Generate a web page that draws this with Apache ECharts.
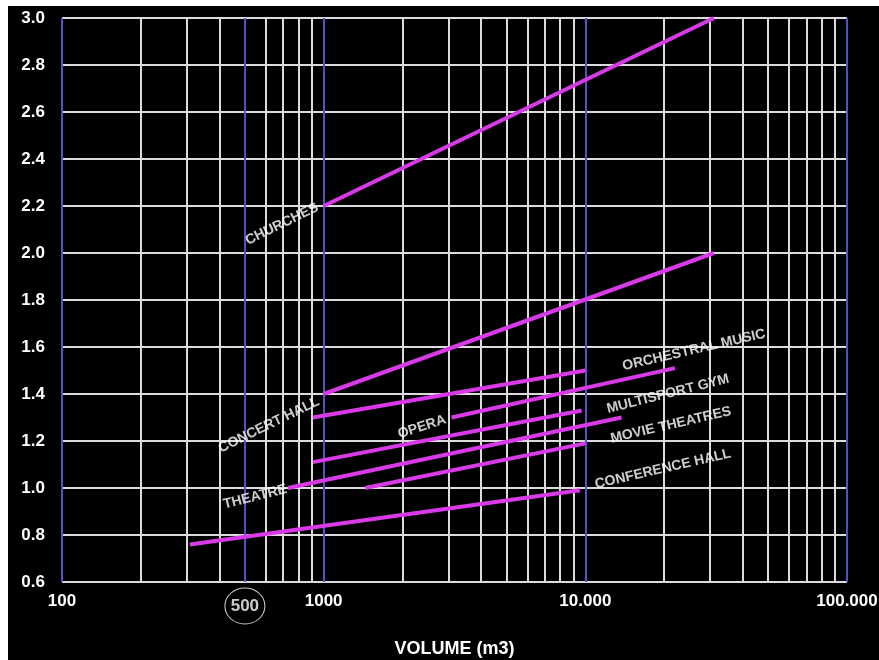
<!DOCTYPE html>
<html>
<head>
<meta charset="utf-8">
<script src="https://cdn.jsdelivr.net/npm/echarts@6/dist/echarts.min.js"></script>
<style>
  html, body { margin: 0; padding: 0; background: #fff; }
  #chart { position: absolute; left: 8px; top: 6px; width: 871px; height: 654px; }
</style>
</head>
<body>
<div id="chart"></div>
<script>
// grid lines of the log paper
const minorX = [200, 300, 400, 600, 700, 800, 900, 2000, 3000, 4000, 5000, 6000, 7000, 8000, 9000,
  20000, 30000, 40000, 50000, 60000, 70000, 80000, 90000]
const majorX = [100, 500, 1000, 10000, 100000]

// reverberation time lines (volume m3 -> seconds)
const lineNames = ['Churches', 'Concert hall', 'Orchestral', 'Opera', 'Multisport', 'Theatre', 'Movie', 'Conference hall']
const startVol = [1000, 1000, 910, 3080, 910, 730, 1440, 308]
const startT = [2.2, 1.4, 1.3, 1.3, 1.11, 1.0, 1.0, 0.76]
const endVol = [31000, 31000, 10000, 22000, 9680, 13760, 10000, 9530]
const endT = [3.0, 2.0, 1.5, 1.51, 1.33, 1.3, 1.19, 0.99]

// text labels along the lines
const labelText = ['CHURCHES', 'CONCERT HALL', 'THEATRE', 'OPERA', 'ORCHESTRAL MUSIC', 'MULTISPORT GYM', 'MOVIE THEATRES', 'CONFERENCE HALL']
const labelVol = [693, 618, 547, 2375, 26000, 20690, 21230, 19800]
const labelT = [2.123, 1.268, 0.962, 1.26, 1.587, 1.40, 1.268, 1.081]
const labelAngle = [26, 26, 14, 18, 13, 14, 13, 13]

const chart = echarts.init(document.getElementById('chart'))

function fmtVol(v) {
  const n = Math.round(v)
  return n >= 10000 ? String(n).replace(/\B(?=(\d{3})+(?!\d))/g, '.') : String(n)
}

const font = 'Liberation Sans, Arial, sans-serif'
const series = []

// vertical grid lines
series.push({
  type: 'line', data: [], silent: true, z: 1,
  markLine: {
    silent: true, symbol: 'none', label: { show: false }, animation: false,
    lineStyle: { color: '#dcdcdc', width: 2, type: 'solid' },
    data: minorX.map(v => ({ xAxis: v }))
  }
})
series.push({
  type: 'line', data: [], silent: true, z: 2,
  markLine: {
    silent: true, symbol: 'none', label: { show: false }, animation: false,
    lineStyle: { color: '#5252c4', width: 2, type: 'solid' },
    data: majorX.map(v => ({ xAxis: v }))
  }
})

lineNames.forEach((name, i) => {
  series.push({
    name, type: 'line', z: 5, showSymbol: false, silent: true,
    lineStyle: { color: '#d83ae8', width: 4 },
    data: [[startVol[i], startT[i]], [endVol[i], endT[i]]]
  })
})

series.push({
  type: 'scatter', z: 6, silent: true, clip: false,
  symbolSize: 0.1,
  itemStyle: { color: 'transparent' },
  data: labelText.map((t, i) => ({
    value: [labelVol[i], labelT[i]],
    label: {
      show: true, formatter: t, position: 'inside', rotate: labelAngle[i],
      color: '#fff', fontSize: 14, fontWeight: 'bold', fontFamily: font
    }
  }))
})

// the circled 500 mark below the axis
series.push({
  type: 'scatter', z: 6, silent: true, clip: false,
  symbol: 'circle', symbolSize: [40, 36], symbolOffset: [0, 24],
  itemStyle: { color: 'transparent', borderColor: '#fff', borderWidth: 1 },
  label: {
    show: true, formatter: '500', position: 'inside',
    color: '#fff', fontSize: 17, fontWeight: 'bold', fontFamily: font
  },
  data: [[500, 0.6]]
})

const option = {
  backgroundColor: '#000',
  animation: false,
  grid: { left: 54, top: 12, width: 785, height: 564, outerBoundsMode: 'none', containLabel: false },
  xAxis: {
    type: 'log', logBase: 10, min: 100, max: 100000,
    name: 'VOLUME (m3)', nameLocation: 'middle', nameGap: 58,
    nameTextStyle: { color: '#fff', fontSize: 18, fontWeight: 'bold', fontFamily: font },
    axisLine: { show: false }, axisTick: { show: false },
    splitLine: { show: false },
    axisLabel: {
      color: '#fff', fontSize: 17, fontWeight: 'bold', margin: 11,
      fontFamily: font,
      formatter: fmtVol
    }
  },
  yAxis: {
    type: 'value', min: 0.6, max: 3.0, interval: 0.2,
    axisLine: { show: false }, axisTick: { show: false },
    splitLine: { show: true, lineStyle: { color: '#dcdcdc', width: 2 } },
    axisLabel: {
      color: '#fff', fontSize: 17, fontWeight: 'bold', margin: 17,
      fontFamily: font,
      formatter: v => v.toFixed(1)
    }
  },
  series
}

chart.setOption(option)
</script>
</body>
</html>
